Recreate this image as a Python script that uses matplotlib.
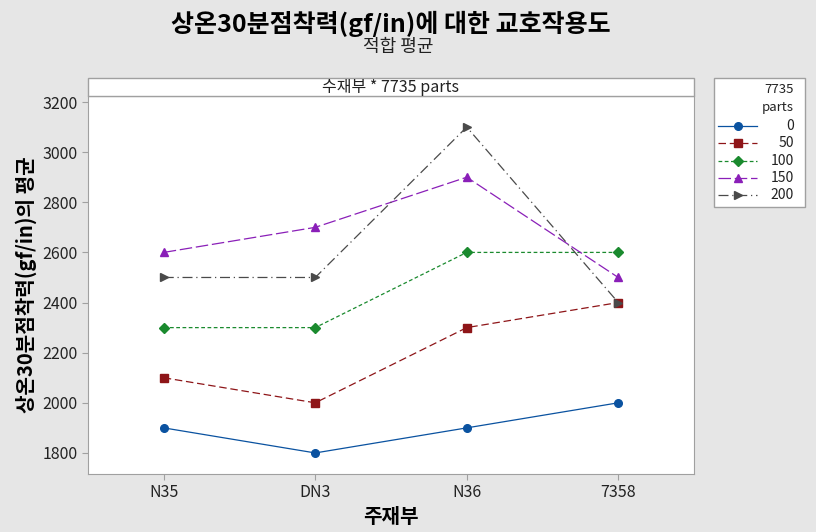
import matplotlib.pyplot as plt
from matplotlib.patches import Rectangle

plt.rcParams['font.family'] = ['Noto Sans CJK KR', 'DejaVu Sans']

# data
main_parts = ["N35", "DN3", "N36", "7358"]
levels = ["0", "50", "100", "150", "200"]
mean_0 = [1900, 1800, 1900, 2000]
mean_50 = [2100, 2000, 2300, 2400]
mean_100 = [2300, 2300, 2600, 2600]
mean_150 = [2600, 2700, 2900, 2500]
mean_200 = [2500, 2500, 3100, 2400]
y_ticks = [1800, 2000, 2200, 2400, 2600, 2800, 3000, 3200]

series = [mean_0, mean_50, mean_100, mean_150, mean_200]
colors = ["#0a52a0", "#8e1518", "#1a8a2e", "#8a1fb8", "#4a4a4a"]
markers = ["o", "s", "D", "^", ">"]
styles = ["-", (0, (6, 3)), (0, (3, 2)), (0, (10, 3)), (0, (8, 3, 1, 3))]

bg = "#e6e6e6"
edge = "#a0a0a0"

fig = plt.figure(figsize=(8.16, 5.32), dpi=100, facecolor=bg)
W, H = 816, 532

def fx(px):
    return px / W

def fy(py):
    return 1 - py / H

ax = fig.add_axes([fx(88), fy(474), fx(694) - fx(88), fy(96) - fy(474)])
ax.set_facecolor("white")

x = list(range(len(main_parts)))
for vals, c, m, ls in zip(series, colors, markers, styles):
    ax.plot(x, vals, color=c, marker=m, linestyle=ls, linewidth=0.9,
            markersize=5.5, markeredgecolor=c)

ax.set_xlim(-0.5, 3.5)
ax.set_ylim(1716, 3224)
ax.set_xticks(x)
ax.set_xticklabels(main_parts)
ax.set_yticks(y_ticks)
for s in ax.spines.values():
    s.set_color(edge)
ax.tick_params(colors=edge, labelcolor="#222222", labelsize=11.5, length=4)

ax.set_xlabel("주재부", fontsize=14.5, fontweight="bold", labelpad=3)
ax.set_ylabel("상온30분점착력(gf/in)의 평균", fontsize=14.5, fontweight="bold", labelpad=4)

# strip above the panel
fig.patches.append(Rectangle((fx(88), fy(96)), fx(694) - fx(88), fy(78) - fy(96),
                             transform=fig.transFigure, facecolor="white",
                             edgecolor=edge, linewidth=1))
fig.text((fx(88) + fx(694)) / 2, fy(87), "수재부 * 7735 parts", ha="center", va="center",
         fontsize=11.5, color="#222222")

fig.text(fx(391), fy(24), "상온30분점착력(gf/in)에 대한 교호작용도", ha="center", va="center",
         fontsize=18, fontweight="bold")
fig.text(fx(398), fy(47), "적합 평균", ha="center", va="center", fontsize=13, color="#222222")

# legend box
fig.patches.append(Rectangle((fx(714), fy(207)), fx(805) - fx(714), fy(78) - fy(207),
                             transform=fig.transFigure, facecolor="white",
                             edgecolor=edge, linewidth=1))
fig.text(fx(794), fy(89), "7735", ha="right", va="center", fontsize=9.5, color="#222222")
fig.text(fx(794), fy(107), "parts", ha="right", va="center", fontsize=9.5, color="#222222")
leg_y = [126, 143, 161, 178, 195]
for lab, c, m, ls, py in zip(levels, colors, markers, styles, leg_y):
    fig.add_artist(plt.Line2D([fx(718), fx(757)], [fy(py), fy(py)], color=c,
                              linestyle=ls, linewidth=0.9, transform=fig.transFigure))
    fig.add_artist(plt.Line2D([fx(738)], [fy(py)], color=c, marker=m, markersize=5.5,
                              linestyle="none", transform=fig.transFigure))
    fig.text(fx(794), fy(py), lab, ha="right", va="center", fontsize=10, color="#222222")

fig.savefig("out.png", dpi=100, facecolor=bg)
